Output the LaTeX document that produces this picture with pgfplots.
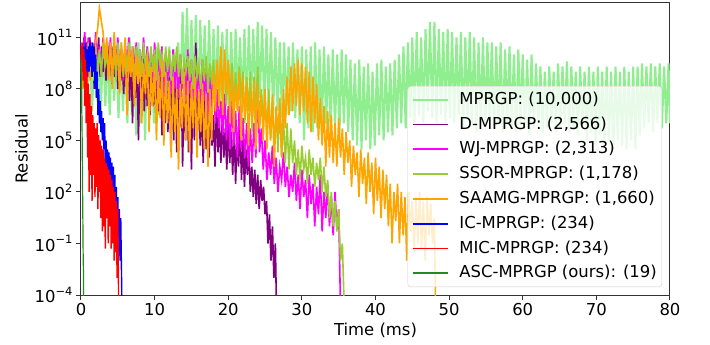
\documentclass[border=0pt]{standalone}
\usepackage{fontspec}
\setmainfont{DejaVu Sans}
\usepackage{pgfplots}
\pgfplotsset{compat=1.18}
\definecolor{cMP}{HTML}{90EE90}
\definecolor{cD}{HTML}{800080}
\definecolor{cWJ}{HTML}{FF00FF}
\definecolor{cSS}{HTML}{9ACD32}
\definecolor{cSA}{HTML}{FFA500}
\definecolor{cIC}{HTML}{0000FF}
\definecolor{cMIC}{HTML}{FF0000}
\definecolor{cASC}{HTML}{228B22}
\newcommand{\tsup}[1]{10\raisebox{0.45em}{\fontsize{11.5}{12}\selectfont #1}}
\newcommand{\fs}{\fontsize{16.5}{20}\selectfont}
\pgfplotsset{legend image code/.code={\draw[#1] (0bp,0bp) -- (35bp,0bp);}}
\begin{document}
\begin{tikzpicture}
\begin{axis}[
 scale only axis, width=589bp, height=292bp,
 xmin=0, xmax=80, ymin=1e-4, ymax=1e13, ymode=log,
 xtick={0,10,...,80},
 ytick={1e-4,1e-1,1e2,1e5,1e8,1e11},
 yticklabels={\tsup{−4},\tsup{−1},\tsup{2},\tsup{5},\tsup{8},\tsup{11}},
 yminorticks=false,
 /pgf/number format/assume math mode=true,
 tick align=outside, xtick pos=bottom, ytick pos=left,
 major tick length=5bp,
 every tick/.style={black!80, line width=1bp},
 axis line style={black!80, line width=1bp},
 tick label style={font=\fs},
 label style={font=\fs},
 xlabel={Time (ms)}, ylabel={Residual},
 legend cell align=left,
 legend style={at={(1,0)}, anchor=south east, xshift=-8bp, yshift=8bp,
   fill=white, fill opacity=0.8, text opacity=1, draw=black!20,
   rounded corners=3bp, font=\fs, inner xsep=4bp, inner ysep=4bp, row sep=5.8bp,
   nodes={inner sep=1bp, text height=13bp, text depth=4bp},
   /tikz/every odd column/.append style={column sep=10bp}},
]
\addlegendimage{color=cMP, line width=1.7bp}
\addlegendentry{MPRGP: (10,000)}
\addlegendimage{color=cD, line width=1.7bp}
\addlegendentry{D-MPRGP: (2,566)}
\addlegendimage{color=cWJ, line width=1.7bp}
\addlegendentry{WJ-MPRGP: (2,313)}
\addlegendimage{color=cSS, line width=1.7bp}
\addlegendentry{SSOR-MPRGP: (1,178)}
\addlegendimage{color=cSA, line width=1.7bp}
\addlegendentry{SAAMG-MPRGP: (1,660)}
\addlegendimage{color=cIC, line width=1.7bp}
\addlegendentry{IC-MPRGP: (234)}
\addlegendimage{color=cMIC, line width=1.7bp}
\addlegendentry{MIC-MPRGP: (234)}
\addlegendimage{color=cASC, line width=1.7bp}
\addlegendentry{ASC-MPRGP (ours): (19)}
\addplot[forget plot, draw=cMP, line width=2.1bp] coordinates {(0,1e10)(0.3,2e8)(0.6,3e10)(0.9,1e8)(1.2,2e10)(1.5,5e6)(1.8,1e10)(2.1,3e7)(2.4,2e10)(2.7,5e6)(3.0,5e10)(3.3,1e7)(3.6,2e10)(3.9,3e6)(4.2,3e10)(4.5,2e7)(4.8,1e10)(5.1,2e6)(5.4,5e10)(5.7,5e6)(6.0,2e10)(6.3,1e6)(6.6,1e11)(6.9,3e6)(7.2,3e10)(7.5,2e5)(7.8,5e10)(8.1,1e6)(8.4,2e10)(8.7,1e5)(9.0,3e10)(9.3,2e6)(9.6,1e10)(9.9,1e6)(10.2,3e10)(10.5,3e6)(10.8,2e10)(11.1,1e6)(11.4,1e10)(11.7,5e6)(12.0,3e10)(12.3,2e6)(12.6,2e10)(12.9,1e7)(13.2,5e10)(13.5,3e7)(13.8,3e12)(14.1,1e8)(14.4,5e12)(14.7,2e7)(15.0,1e12)(15.3,5e7)(15.6,2e12)(15.9,1e7)(16.2,1e12)(16.5,3e7)(16.8,5e11)(17.1,1e7)(17.4,1e12)(17.7,5e6)(18.0,3e11)(18.3,2e7)(18.6,5e11)(18.9,3e6)(19.2,2e11)(19.5,1e7)(19.8,3e11)(20.1,5e6)(20.4,2e11)(20.7,1e7)(21.0,3e11)(21.3,3e7)(21.6,1e11)(21.9,1e7)(22.2,3e11)(22.5,5e6)(22.8,5e11)(23.1,2e7)(23.4,3e11)(23.7,1e7)(24.0,8e11)(24.3,3e7)(24.6,5e11)(24.9,5e6)(25.2,3e11)(25.5,1e7)(25.8,2e11)(26.1,3e6)(26.4,1e11)(26.7,5e6)(27.0,5e10)(27.3,2e6)(27.6,5e10)(27.9,3e6)(28.2,3e10)(28.5,5e6)(28.8,5e10)(29.1,2e6)(29.4,2e10)(29.7,1e6)(30.0,3e10)(30.3,1e5)(30.6,2e10)(30.9,5e5)(31.2,3e10)(31.5,3e5)(31.8,5e10)(32.1,5e5)(32.4,2e10)(32.7,2e5)(33.0,3e10)(33.3,1e6)(33.6,1e10)(33.9,3e5)(34.2,2e10)(34.5,5e5)(34.8,1e10)(35.1,2e5)(35.4,2e10)(35.7,1e6)(36.0,1e10)(36.3,3e5)(36.6,5e9)(36.9,1e5)(37.2,3e9)(37.5,5e4)(37.8,5e9)(38.1,3e4)(38.4,2e9)(38.7,1e5)(39.0,3e9)(39.3,3e4)(39.6,1e9)(39.9,5e4)(40.2,3e9)(40.5,2e5)(40.8,5e9)(41.1,1e5)(41.4,2e9)(41.7,3e5)(42.0,3e9)(42.3,2e5)(42.6,5e9)(42.9,5e5)(43.2,1e10)(43.5,1e6)(43.8,3e10)(44.1,5e5)(44.4,5e10)(44.7,2e6)(45.0,1e11)(45.3,1e6)(45.6,2e11)(45.9,3e6)(46.2,1e11)(46.5,1e6)(46.8,3e11)(47.1,5e6)(47.4,8e11)(47.7,2e6)(48.0,8e11)(48.3,1e6)(48.6,3e11)(48.9,3e6)(49.2,2e11)(49.5,1e6)(49.8,3e11)(50.1,2e6)(50.4,2e11)(50.7,1e6)(51.0,1e11)(51.3,3e6)(51.6,2e11)(51.9,5e5)(52.2,1e11)(52.5,2e6)(52.8,2e11)(53.1,1e6)(53.4,1e11)(53.7,3e5)(54.0,5e10)(54.3,1e6)(54.6,1e11)(54.9,5e5)(55.2,5e10)(55.5,2e6)(55.8,5e10)(56.1,5e5)(56.4,3e10)(56.7,1e6)(57.0,5e10)(57.3,3e5)(57.6,2e10)(57.9,1e6)(58.2,3e10)(58.5,5e5)(58.8,1e10)(59.1,3e5)(59.4,2e10)(59.7,1e6)(60.0,1e10)(60.3,5e5)(60.6,5e9)(60.9,2e5)(61.2,1e10)(61.5,5e5)(61.8,3e9)(62.1,1e6)(62.4,2e9)(62.7,3e5)(63.0,1e9)(63.3,5e5)(63.6,2e9)(63.9,1e6)(64.2,1e9)(64.5,3e5)(64.8,3e9)(65.1,5e5)(65.4,2e9)(65.7,1e6)(66.0,4e9)(66.3,3e5)(66.6,2e9)(66.9,5e5)(67.2,1e9)(67.5,2e5)(67.8,2e9)(68.1,5e5)(68.4,1e9)(68.7,1e5)(69.0,2e9)(69.3,3e5)(69.6,1e9)(69.9,5e4)(70.2,2e9)(70.5,2e5)(70.8,1e9)(71.1,5e4)(71.4,2e9)(71.7,1e5)(72.0,1e9)(72.3,3e4)(72.6,2e9)(72.9,1e5)(73.2,1e9)(73.5,5e4)(73.8,2e9)(74.1,3e4)(74.4,1e9)(74.7,1e5)(75.0,2e9)(75.3,3e4)(75.6,2e9)(75.9,2e5)(76.2,3e9)(76.5,5e5)(76.8,2e9)(77.1,1e6)(77.4,3e9)(77.7,3e5)(78.0,2e9)(78.3,1e6)(78.6,3e9)(78.9,5e5)(79.2,2e9)(79.5,1e6)(79.8,3e9)(80.0,1e6)};
\addplot[forget plot, draw=cD, line width=1.6bp] coordinates {(0.0,3e10)(0.2,1e9)(0.4,1e11)(0.6,3e8)(0.8,5e10)(1.0,2e9)(1.2,1e11)(1.4,5e8)(1.6,2e10)(1.8,1e8)(2.0,5e10)(2.2,3e9)(2.4,1e11)(2.6,5e8)(2.8,3e10)(3.0,1e9)(3.2,2e10)(3.4,3e8)(3.6,5e10)(3.8,1e9)(4.0,1e10)(4.2,2e8)(4.4,3e10)(4.6,5e8)(4.8,2e10)(5.0,1e8)(5.2,1e10)(5.4,3e8)(5.6,5e9)(5.8,5e7)(6.0,2e10)(6.2,1e8)(6.4,3e9)(6.6,2e7)(6.8,1e10)(7.0,1e6)(7.2,3e9)(7.4,3e7)(7.6,5e9)(7.8,1e5)(8.0,2e9)(8.2,2e7)(8.4,1e10)(8.6,5e6)(8.8,3e9)(9.0,1e7)(9.2,2e9)(9.4,3e6)(9.6,5e9)(9.8,1e7)(10.0,1e9)(10.2,1e6)(10.4,2e9)(10.6,5e6)(10.8,5e8)(11.0,2e5)(11.2,1e9)(11.4,1e6)(11.6,3e8)(11.8,3e5)(12.0,5e8)(12.2,5e4)(12.4,2e8)(12.6,1e5)(12.8,1e9)(13.0,2e4)(13.2,3e8)(13.4,5e5)(13.6,1e9)(13.8,3e3)(14.0,2e8)(14.2,1e5)(14.4,5e9)(14.6,2e4)(14.8,1e8)(15.0,2e3)(15.2,3e8)(15.4,1e5)(15.6,5e10)(15.8,3e5)(16.0,2e7)(16.2,5e4)(16.4,1e7)(16.6,5e3)(16.8,2e7)(17.0,3e4)(17.2,5e6)(17.4,1e4)(17.6,1e7)(17.8,5e4)(18.0,3e6)(18.2,3e3)(18.4,2e7)(18.6,2e4)(18.8,1e6)(19.0,5e3)(19.2,3e6)(19.4,1e4)(19.6,5e5)(19.8,2e3)(20.0,1e6)(20.2,5e3)(20.4,3e5)(20.6,1e3)(20.8,5e5)(21.0,3e2)(21.2,2e5)(21.4,3e3)(21.6,5e5)(21.8,5e2)(22.0,1e5)(22.2,2e2)(22.4,3e4)(22.6,1e3)(22.8,2e4)(23.0,1e2)(23.2,3e3)(23.4,5e1)(23.6,2e3)(23.8,2e1)(24.0,1e3)(24.2,1e1)(24.4,5e2)(24.6,3e1)(24.8,2e2)(25.0,5e0)(25.2,3e1)(25.4,1e-1)(25.6,5e0)(25.8,1e-2)(26.0,1e0)(26.2,1e-3)(26.4,1e-1)(26.6,1e-6)};
\addplot[forget plot, draw=cWJ, line width=1.6bp] coordinates {(0.0,5e10)(0.25,1e9)(0.5,2e11)(0.75,5e9)(1.0,1e11)(1.25,1e9)(1.5,5e10)(1.75,3e9)(2.0,2e11)(2.25,2e9)(2.5,3e10)(2.75,5e8)(3.0,1e11)(3.25,3e9)(3.5,5e10)(3.75,1e9)(4.0,1e11)(4.25,5e8)(4.5,3e10)(4.75,2e9)(5.0,1e11)(5.25,1e9)(5.5,2e10)(5.75,3e8)(6.0,5e10)(6.25,2e9)(6.5,1e11)(6.75,5e8)(7.0,3e10)(7.25,1e9)(7.5,5e10)(7.75,2e8)(8.0,2e10)(8.25,1e9)(8.5,1e11)(8.75,5e8)(9.0,3e10)(9.25,1e9)(9.5,2e10)(9.75,3e8)(10.0,5e10)(10.25,1e8)(10.5,1e10)(10.75,5e8)(11.0,3e10)(11.25,2e7)(11.5,1e10)(11.75,3e8)(12.0,5e9)(12.25,5e7)(12.5,2e10)(12.75,1e8)(13.0,5e9)(13.25,3e7)(13.5,1e10)(13.75,1e8)(14.0,3e9)(14.25,2e7)(14.5,2e10)(14.75,5e7)(15.0,5e9)(15.25,1e7)(15.5,1e10)(15.75,3e7)(16.0,2e9)(16.25,5e6)(16.5,5e9)(16.75,2e7)(17.0,1e9)(17.25,3e6)(17.5,2e9)(17.75,1e7)(18.0,5e8)(18.25,1e6)(18.5,1e8)(18.75,5e5)(19.0,2e7)(19.25,2e5)(19.5,5e7)(19.75,1e5)(20.0,1e7)(20.25,3e4)(20.5,2e7)(20.75,5e4)(21.0,5e6)(21.25,1e4)(21.5,1e7)(21.75,3e4)(22.0,2e6)(22.25,1e4)(22.5,1e6)(22.75,3e3)(23.0,5e5)(23.25,5e3)(23.5,1e6)(23.75,1e4)(24.0,3e8)(24.25,2e4)(24.5,5e5)(24.75,2e3)(25.0,1e5)(25.25,5e2)(25.5,2e4)(25.75,1e3)(26.0,5e4)(26.25,3e2)(26.5,1e4)(26.75,1e2)(27.0,3e3)(27.25,5e2)(27.5,2e4)(27.75,2e2)(28.0,3e3)(28.25,5e1)(28.5,1e3)(28.75,1e2)(29.0,5e3)(29.25,3e1)(29.5,1e3)(29.75,1e1)(30.0,2e3)(30.25,5e1)(30.5,5e2)(30.75,3e0)(31.0,1e3)(31.25,2e1)(31.5,3e2)(31.75,1e0)(32.0,2e2)(32.25,5e0)(32.5,1e3)(32.75,5e-1)(33.0,1e2)(33.25,3e0)(33.5,3e2)(33.75,1e0)(34.0,5e1)(34.25,3e-1)(34.5,1e2)(34.75,1e0)(35.0,1e1)(35.3,1e-6)};
\addplot[forget plot, draw=cSS, line width=1.6bp] coordinates {(0.0,1e10)(0.25,5e8)(0.5,3e10)(0.75,1e9)(1.0,5e10)(1.25,2e9)(1.5,1e10)(1.75,3e8)(2.0,3e10)(2.25,1e9)(2.5,2e10)(2.75,5e8)(3.0,5e10)(3.25,2e9)(3.5,1e10)(3.75,5e8)(4.0,3e10)(4.25,1e9)(4.5,2e10)(4.75,3e8)(5.0,5e10)(5.25,3e9)(5.5,1e10)(5.75,5e8)(6.0,3e10)(6.25,1e9)(6.5,5e10)(6.75,2e9)(7.0,1e10)(7.25,3e8)(7.5,3e10)(7.75,1e9)(8.0,2e10)(8.25,5e8)(8.5,5e10)(8.75,2e9)(9.0,1e10)(9.25,5e8)(9.5,3e10)(9.75,1e9)(10.0,2e10)(10.25,3e8)(10.5,5e10)(10.75,2e9)(11.0,1e10)(11.25,5e8)(11.5,3e10)(11.75,1e9)(12.0,2e10)(12.25,3e8)(12.5,1e10)(12.75,1e9)(13.0,3e10)(13.25,5e8)(13.5,1e10)(13.75,2e8)(14.0,5e9)(14.25,1e9)(14.5,8e9)(14.75,3e8)(15.0,5e9)(15.25,1e8)(15.5,8e9)(15.75,5e8)(16.0,3e9)(16.25,1e8)(16.5,5e9)(16.75,3e8)(17.0,8e9)(17.25,6e7)(17.5,3e9)(17.75,2e8)(18.0,5e9)(18.25,1e8)(18.5,2e9)(18.75,5e7)(19.0,5e9)(19.25,2e8)(19.5,3e9)(19.75,1e7)(20.0,2e9)(20.25,5e7)(20.5,3e9)(20.75,1e7)(21.0,1e9)(21.25,5e6)(21.5,2e9)(21.75,3e7)(22.0,1e9)(22.25,1e6)(22.5,5e8)(22.75,5e6)(23.0,1e9)(23.25,3e5)(23.5,5e8)(23.75,2e6)(24.0,2e9)(24.25,5e5)(24.5,1e8)(24.75,1e6)(25.0,5e7)(25.25,2e5)(25.5,1e8)(25.75,1e5)(26.0,2e7)(26.25,5e4)(26.5,5e6)(26.75,2e4)(27.0,1e7)(27.25,1e4)(27.5,2e6)(27.75,5e3)(28.0,1e6)(28.25,2e3)(28.5,5e5)(28.75,5e3)(29.0,1e5)(29.25,1e3)(29.5,3e4)(29.75,5e2)(30.0,5e4)(30.25,2e3)(30.5,1e4)(30.75,3e2)(31.0,3e4)(31.25,1e3)(31.5,1e4)(31.75,2e2)(32.0,5e3)(32.25,5e2)(32.5,1e4)(32.75,1e2)(33.0,3e3)(33.25,5e1)(33.5,5e2)(33.75,3e0)(34.0,1e2)(34.25,1e0)(34.5,3e1)(34.75,5e-1)(35.0,1e1)(35.25,1e-2)(35.5,1e-1)(35.7,1e-4)(35.75,1e-6)};
\addplot[forget plot, draw=cSA, line width=1.6bp] coordinates {(0.0,3e9)(0.25,1e8)(0.5,1e10)(0.75,5e7)(1.0,2e10)(1.25,3e8)(1.5,1e10)(1.75,1e9)(2.0,5e10)(2.25,3e11)(2.5,5e12)(2.75,1e12)(3.0,2e11)(3.25,5e9)(3.5,1e11)(3.75,3e8)(4.0,5e10)(4.25,1e8)(4.5,2e11)(4.75,3e9)(5.0,1e10)(5.25,5e7)(5.5,5e10)(5.75,1e9)(6.0,1e11)(6.25,3e6)(6.5,2e10)(6.75,5e8)(7.0,3e10)(7.25,1e7)(7.5,1e10)(7.75,2e8)(8.0,5e9)(8.25,1e6)(8.5,3e9)(8.75,5e7)(9.0,1e10)(9.25,3e5)(9.5,2e9)(9.75,1e7)(10.0,3e9)(10.25,1e5)(10.5,1e9)(10.75,2e6)(11.0,5e9)(11.25,5e4)(11.5,1e9)(11.75,1e6)(12.0,3e8)(12.25,1e4)(12.5,5e8)(12.75,3e5)(13.0,1e8)(13.25,2e3)(13.5,2e8)(13.75,5e5)(14.0,1e9)(14.25,1e5)(14.5,3e8)(14.75,2e4)(15.0,2e8)(15.25,5e5)(15.5,5e8)(15.75,1e4)(16.0,1e8)(16.25,3e5)(16.5,2e8)(16.75,3e4)(17.0,5e7)(17.25,3e3)(17.5,1e8)(17.75,1e5)(18.0,1e9)(18.25,5e6)(18.5,5e9)(18.75,1e7)(19.0,3e10)(19.25,3e6)(19.5,2e10)(19.75,5e7)(20.0,5e9)(20.25,1e6)(20.5,1e9)(20.75,3e5)(21.0,2e8)(21.25,5e6)(21.5,1e9)(21.75,1e5)(22.0,5e8)(22.25,2e6)(22.5,2e8)(22.75,5e4)(23.0,1e8)(23.25,1e6)(23.5,3e8)(23.75,3e4)(24.0,2e8)(24.25,5e5)(24.5,5e7)(24.75,1e5)(25.0,1e8)(25.25,3e4)(25.5,2e7)(25.75,1e5)(26.0,5e7)(26.25,3e3)(26.5,1e7)(26.75,2e5)(27.0,3e7)(27.25,1e4)(27.5,1e8)(27.75,5e5)(28.0,5e8)(28.25,3e6)(28.5,2e9)(28.75,5e6)(29.0,3e9)(29.25,1e7)(29.5,5e9)(29.75,3e6)(30.0,3e9)(30.25,5e6)(30.5,2e9)(30.75,1e6)(31.0,1e9)(31.25,3e5)(31.5,5e8)(31.75,1e6)(32.0,2e8)(32.25,1e5)(32.5,3e7)(32.75,5e4)(33.0,1e7)(33.25,3e3)(33.5,5e6)(33.75,1e4)(34.0,3e6)(34.25,5e3)(34.5,1e6)(34.75,3e3)(35.0,2e6)(35.25,1e4)(35.5,5e5)(35.75,1e3)(36.0,3e5)(36.25,5e3)(36.5,1e5)(36.75,2e2)(37.0,5e4)(37.25,1e3)(37.5,2e4)(37.75,5e1)(38.0,3e4)(38.25,3e2)(38.5,1e4)(38.75,2e1)(39.0,2e4)(39.25,1e2)(39.5,5e3)(39.75,5e0)(40.0,1e4)(40.25,3e1)(40.5,3e3)(40.75,3e0)(41.0,2e3)(41.25,1e1)(41.5,1e3)(41.75,1e0)(42.0,3e2)(42.25,1e-1)(42.5,1e2)(42.75,2e0)(43.0,3e2)(43.25,1e-1)(43.5,1e2)(43.75,3e-1)(44.0,5e1)(44.25,1e-2)(44.5,1e2)(44.75,5e-1)(45.0,3e1)(45.25,3e-2)(45.5,5e1)(45.75,1e-1)(46.0,1e2)(46.25,5e-2)(46.5,3e1)(46.75,1e-2)(47.0,5e1)(47.25,3e-1)(47.5,2e1)(47.75,1e-1)(48.0,3e0)(48.2,1e-6)};
\addplot[forget plot, draw=cIC, line width=1.4bp] coordinates {(0.0,1e10)(0.1,3e9)(0.2,2e10)(0.3,1e9)(0.4,3e10)(0.5,2e9)(0.6,5e10)(0.7,1e9)(0.8,2e10)(0.9,5e8)(1.0,3e10)(1.1,1e9)(1.2,5e10)(1.3,2e9)(1.4,3e10)(1.5,5e8)(1.6,5e10)(1.7,1e9)(1.8,3e10)(1.9,1e8)(2.0,1e10)(2.1,3e7)(2.2,1e9)(2.3,3e6)(2.4,1e8)(2.5,1e6)(2.6,2e7)(2.7,3e5)(2.8,5e6)(2.9,1e5)(3.0,2e6)(3.1,3e4)(3.2,1e6)(3.3,5e3)(3.4,1e5)(3.5,1e3)(3.6,3e4)(3.7,5e2)(3.8,2e4)(3.9,1e2)(4.0,1e4)(4.1,3e1)(4.2,5e3)(4.3,1e1)(4.4,3e3)(4.5,5e0)(4.6,1e3)(4.7,1e0)(4.8,2e2)(4.9,3e-1)(5.0,5e1)(5.1,5e-2)(5.2,1e1)(5.3,1e-2)(5.4,3e0)(5.5,2e-3)(5.6,1e-6)};
\addplot[forget plot, draw=cMIC, line width=1.4bp] coordinates {(0.0,3e10)(0.1,1e9)(0.2,5e10)(0.3,3e8)(0.4,2e10)(0.5,1e7)(0.6,5e9)(0.7,1e6)(0.8,1e9)(0.9,1e4)(1.0,2e8)(1.1,1e2)(1.2,5e7)(1.3,1e3)(1.4,1e7)(1.5,3e1)(1.6,3e6)(1.7,1e3)(1.8,1e6)(1.9,5e1)(2.0,5e5)(2.1,2e2)(2.2,1e6)(2.3,1e1)(2.4,2e5)(2.5,1e2)(2.6,1e5)(2.7,3e0)(2.8,5e4)(2.9,5e-1)(3.0,3e4)(3.1,1e0)(3.2,1e4)(3.3,5e-2)(3.4,5e3)(3.5,3e0)(3.6,3e3)(3.7,1e-1)(3.8,2e3)(3.9,1e0)(4.0,1e3)(4.1,5e-2)(4.2,5e2)(4.3,1e-1)(4.4,2e2)(4.5,1e-2)(4.6,1e2)(4.7,3e-2)(4.8,3e1)(4.9,1e-3)(5.0,1e1)(5.1,1e-4)(5.2,1e-6)};
\addplot[forget plot, draw=cASC, line width=1.2bp] coordinates {(0,5e9)(0.02,1e9)(0.04,3e9)(0.06,1e8)(0.08,5e8)(0.1,1e7)(0.12,3e6)(0.14,1e6)(0.16,1e5)(0.18,1e4)(0.2,1e3)(0.22,1e2)(0.24,1e1)(0.26,1e0)(0.28,1e-1)(0.3,1e-2)(0.32,5e-3)(0.34,1e-3)(0.36,1e-6)};
\end{axis}
\pgfresetboundingbox
\path (-81bp,-50bp) rectangle (629bp,295bp);
\end{tikzpicture}
\end{document}
